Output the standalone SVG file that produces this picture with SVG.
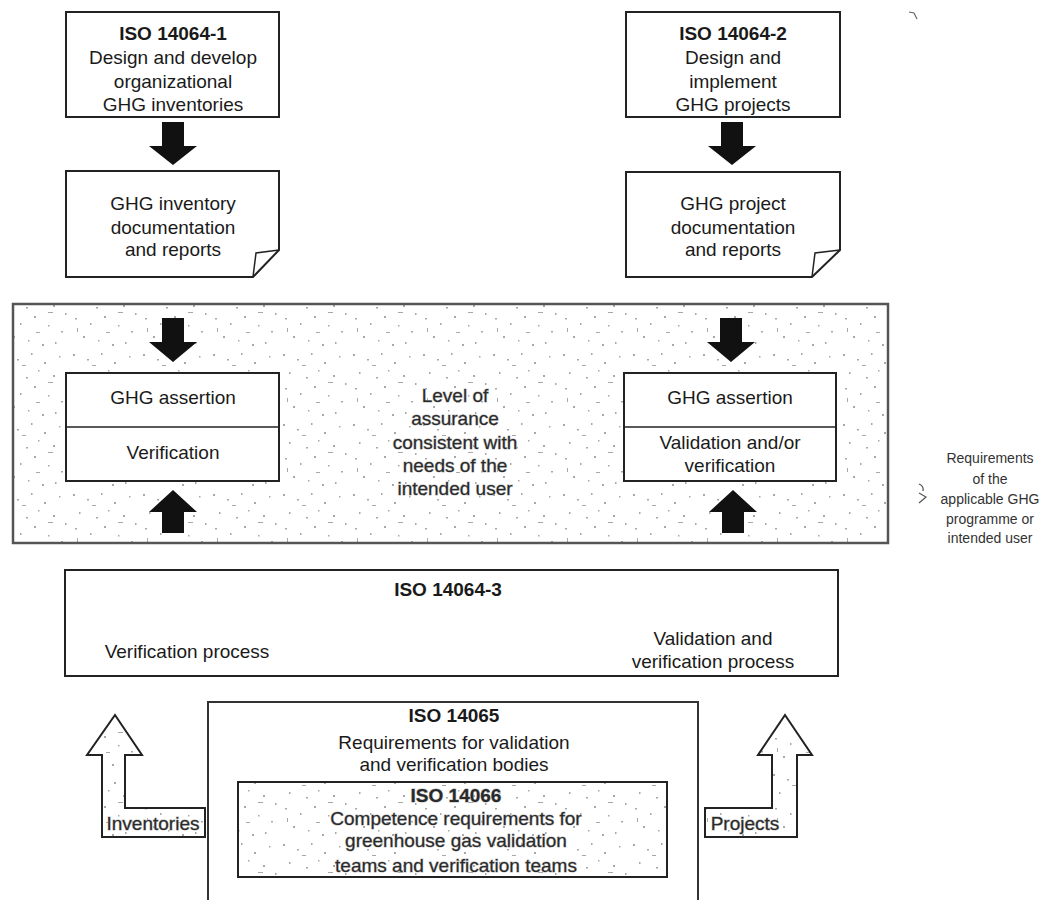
<svg xmlns="http://www.w3.org/2000/svg" width="1049" height="900" viewBox="0 0 1049 900">
<defs>
<pattern id="stip" width="70" height="70" patternUnits="userSpaceOnUse">
<rect width="70" height="70" fill="#fff"/>
<g fill="#a8a8a8">
<rect x="3" y="4" width="2" height="2"/><rect x="17" y="9" width="2" height="1.5"/><rect x="31" y="3" width="1.5" height="2"/>
<rect x="44" y="12" width="2" height="2"/><rect x="59" y="6" width="1.5" height="1.5"/><rect x="9" y="22" width="1.5" height="2"/>
<rect x="26" y="27" width="2" height="1.5"/><rect x="38" y="20" width="1.5" height="1.5"/><rect x="53" y="25" width="2" height="2"/>
<rect x="65" y="33" width="1.5" height="2"/><rect x="5" y="38" width="2" height="1.5"/><rect x="20" y="43" width="1.5" height="2"/>
<rect x="34" y="36" width="2" height="2"/><rect x="48" y="45" width="1.5" height="1.5"/><rect x="61" y="51" width="2" height="1.5"/>
<rect x="13" y="56" width="2" height="2"/><rect x="28" y="60" width="1.5" height="1.5"/><rect x="42" y="64" width="2" height="2"/>
<rect x="55" y="62" width="1.5" height="2"/><rect x="22" y="15" width="4" height="1"/><rect x="48" y="32" width="5" height="1"/>
<rect x="7" y="48" width="1" height="4"/><rect x="36" y="52" width="4" height="1"/>
</g>
</pattern>
<style>
.t{font-family:"Liberation Sans",Arial,sans-serif;font-size:19px;fill:#1a1a1a;text-anchor:middle}
.b{font-weight:bold}
.s{font-size:14px;fill:#333}
.h{fill:#2a2a2a;stroke:#b8b8b8;stroke-width:1;paint-order:stroke}
.box{fill:#fff;stroke:#222;stroke-width:2}
.arr{fill:#111}
.hol{fill:url(#stip);stroke:#222;stroke-width:2}
</style>
</defs>

<g id="band">
<rect x="13" y="304" width="875" height="239" fill="url(#stip)" stroke="#555" stroke-width="2.5"/>
</g>

<g id="iso14064-1">
<rect class="box" x="66" y="12" width="213" height="105"/>
<text class="t b" x="173" y="40">ISO 14064-1</text>
<text class="t" x="173" y="64">Design and develop</text>
<text class="t" x="173" y="88">organizational</text>
<text class="t" x="173" y="111">GHG inventories</text>
</g>

<g id="iso14064-2">
<rect class="box" x="626" y="12" width="214" height="105"/>
<text class="t b" x="733" y="40">ISO 14064-2</text>
<text class="t" x="733" y="64">Design and</text>
<text class="t" x="733" y="88">implement</text>
<text class="t" x="733" y="111">GHG projects</text>
</g>

<g id="doc-inventory">
<path class="box" d="M66,171 H279 V250 L253,277 H66 Z"/>
<path d="M253,277 L256,253 L279,250" fill="none" stroke="#222" stroke-width="1.5"/>
<text class="t" x="173" y="210">GHG inventory</text>
<text class="t" x="173" y="234">documentation</text>
<text class="t" x="173" y="256">and reports</text>
</g>

<g id="doc-project">
<path class="box" d="M626,172 H840 V250 L812,277 H626 Z"/>
<path d="M812,277 L815,253 L840,250" fill="none" stroke="#222" stroke-width="1.5"/>
<text class="t" x="733" y="210">GHG project</text>
<text class="t" x="733" y="234">documentation</text>
<text class="t" x="733" y="256">and reports</text>
</g>

<g id="assertion-left">
<rect class="box" x="66" y="373" width="213" height="108"/>
<line x1="66" y1="427" x2="279" y2="427" stroke="#222" stroke-width="1.5"/>
<text class="t" x="173" y="404">GHG assertion</text>
<text class="t" x="173" y="459">Verification</text>
</g>

<g id="assertion-right">
<rect class="box" x="624" y="373" width="212" height="108"/>
<line x1="624" y1="427" x2="836" y2="427" stroke="#222" stroke-width="1.5"/>
<text class="t" x="730" y="404">GHG assertion</text>
<text class="t" x="730" y="449">Validation and/or</text>
<text class="t" x="730" y="472">verification</text>
</g>

<g id="assurance">
<text class="t h" x="455" y="402">Level of</text>
<text class="t h" x="455" y="425">assurance</text>
<text class="t h" x="455" y="449">consistent with</text>
<text class="t h" x="455" y="472">needs of the</text>
<text class="t h" x="455" y="495">intended user</text>
</g>

<g id="requirements">
<text class="t s" x="990" y="463">Requirements</text>
<text class="t s" x="990" y="484">of the</text>
<text class="t s" x="990" y="504">applicable GHG</text>
<text class="t s" x="990" y="524">programme or</text>
<text class="t s" x="990" y="543">intended user</text>
<path d="M919,484 Q924,486 923,491 M919,493 L926,497 L919,503" fill="none" stroke="#555" stroke-width="1.2"/>
</g>

<g id="iso14064-3">
<rect class="box" x="65" y="570" width="773" height="106"/>
<text class="t b" x="448" y="596">ISO 14064-3</text>
<text class="t" x="187" y="658">Verification process</text>
<text class="t" x="713" y="645">Validation and</text>
<text class="t" x="713" y="668">verification process</text>
</g>

<g id="iso14065">
<rect x="208" y="702" width="490" height="230" fill="#fff" stroke="#333" stroke-width="2"/>
<text class="t b" x="454" y="722">ISO 14065</text>
<text class="t" x="454" y="749">Requirements for validation</text>
<text class="t" x="454" y="771">and verification bodies</text>
</g>

<g id="iso14066">
<rect x="238" y="782" width="429" height="95" fill="url(#stip)" stroke="#222" stroke-width="2"/>
<text class="t b h" x="456" y="802">ISO 14066</text>
<text class="t h" x="456" y="825">Competence requirements for</text>
<text class="t h" x="456" y="847">greenhouse gas validation</text>
<text class="t h" x="456" y="872">teams and verification teams</text>
</g>

<g id="inventories">
<path class="hol" d="M115,715 L142,755 H125 V808 H205 V837 H102 V755 H87 Z"/>
<text class="t h" x="153" y="830">Inventories</text>
</g>

<g id="projects">
<path class="hol" d="M785,715 L812,755 H797 V837 H705 V808 H772 V755 H758 Z"/>
<text class="t h" x="745" y="830">Projects</text>
</g>

<g id="connectors">
<path class="arr" d="M162,122 H184 V146 H197 L173,165 L149,146 H162 Z"/>
<path class="arr" d="M721,122 H743 V146 H756 L732,165 L708,146 H721 Z"/>
<path class="arr" d="M162,318 H184 V342 H197 L173,362 L149,342 H162 Z"/>
<path class="arr" d="M720,318 H742 V342 H755 L731,362 L707,342 H720 Z"/>
<path class="arr" d="M173,490 L197,512 H184 V533 H162 V512 H149 Z"/>
<path class="arr" d="M733,490 L757,512 H744 V533 H722 V512 H709 Z"/>
</g>

<g id="marks">
<path d="M909,12 L914,13 L917,19" fill="none" stroke="#666" stroke-width="1.2"/>
</g>
</svg>
